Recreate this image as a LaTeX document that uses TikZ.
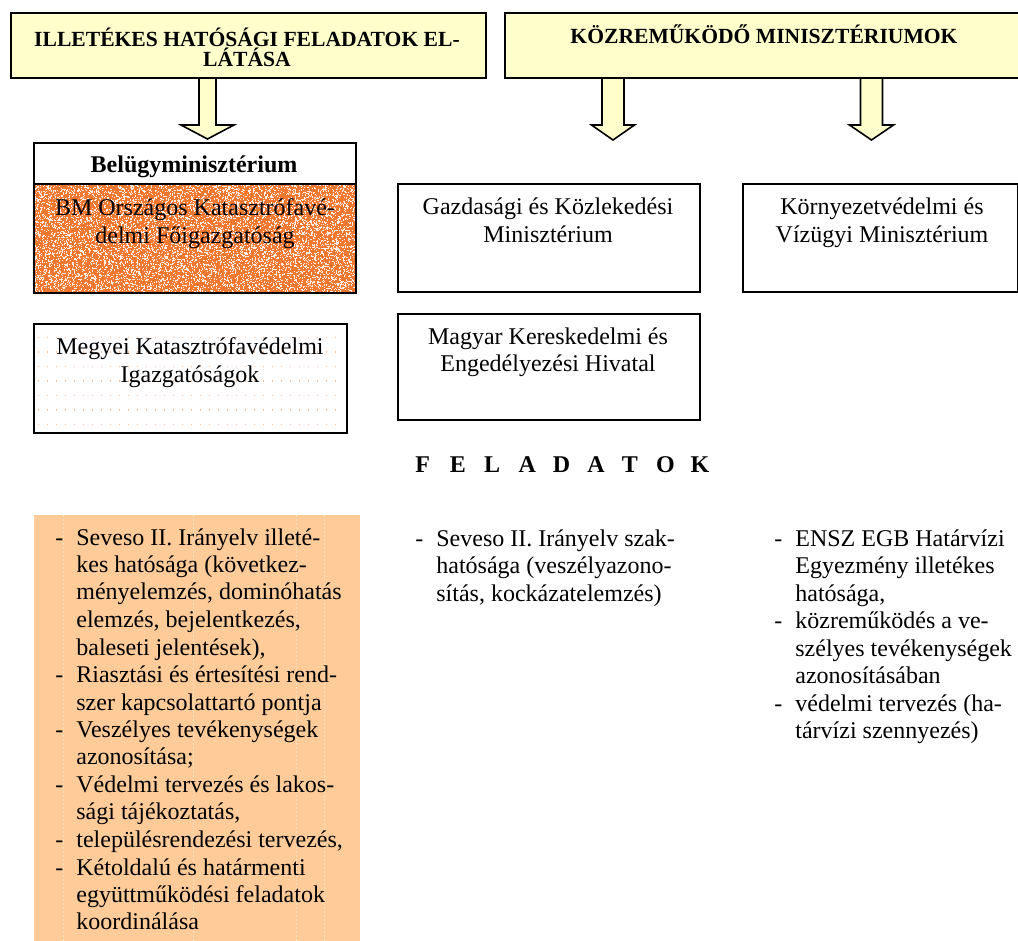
\documentclass[tikz,border=0pt]{standalone}
\usepackage{fontspec}
\setmainfont{Liberation Serif}
\usetikzlibrary{calc}
\definecolor{hdr}{HTML}{FFFFCC}
\definecolor{peach}{HTML}{FFCC99}
\definecolor{okfor}{RGB}{240,120,48}
\definecolor{dotor}{RGB}{247,196,160}
\newcommand\rows[1]{\vtop{\halign{\hfil##\hfil\cr#1\crcr}}}
\newcommand\dsh{\hbox to 10.5pt{-\hfil}}
\newcommand\items[1]{\vtop{\halign{##\hfil&##\hfil\cr#1\crcr}}}
\newcommand\lsp[1]{\makebox[17.2pt][l]{#1}}
\newcommand\blockarrow[5]{%
  \fill[hdr] ($(#1)+(-#2,0)$) -- ($(#1)+(-#2,#4)$) -- ($(#1)+(-#3,#4)$) -- ($(#1)+(0,{#4+#5})$)
     -- ($(#1)+(#3,#4)$) -- ($(#1)+(#2,#4)$) -- ($(#1)+(#2,0)$) -- cycle;
  \draw[line width=0.8pt, line join=miter] ($(#1)+(-#2,0)$) -- ($(#1)+(-#2,#4)$) -- ($(#1)+(-#3,#4)$) -- ($(#1)+(0,{#4+#5})$)
     -- ($(#1)+(#3,#4)$) -- ($(#1)+(#2,#4)$) -- ($(#1)+(#2,0)$);}
\newcommand\orangelist{\items{%
\dsh&Seveso II. Irányelv illeté-\cr
&kes hatósága (következ-\cr
&ményelemzés, dominóhatás\cr
&elemzés, bejelentkezés,\cr
&baleseti jelentések),\cr
\dsh&Riasztási és értesítési rend-\cr
&szer kapcsolattartó pontja\cr
\dsh&Veszélyes tevékenységek\cr
&azonosítása;\cr
\dsh&Védelmi tervezés és lakos-\cr
&sági tájékoztatás,\cr
\dsh&településrendezési tervezés,\cr
\dsh&Kétoldalú és határmenti\cr
&együttműködési feladatok\cr
&koordinálása}}
\newcommand\middlelist{\items{%
\dsh&Seveso II. Irányelv szak-\cr
&hatósága (veszélyazono-\cr
&sítás, kockázatelemzés)}}
\newcommand\rightlist{\items{%
\dsh&ENSZ EGB Határvízi\cr
&Egyezmény illetékes\cr
&hatósága,\cr
\dsh&közreműködés a ve-\cr
&szélyes tevékenységek\cr
&azonosításában\cr
\dsh&védelmi tervezés (ha-\cr
&tárvízi szennyezés)}}
\begin{document}
\begin{tikzpicture}[x=0.5pt,y=-0.5pt,
  box/.style={draw, line width=0.8pt, inner sep=0pt, anchor=north west},
  txt/.style={inner sep=0pt, anchor=base, font=\fontsize{12}{13.75}\selectfont},
  btxt/.style={inner sep=0pt, anchor=base, font=\fontsize{12}{13.75}\selectfont\bfseries},
  htxt/.style={inner sep=0pt, anchor=base, font=\fontsize{10.8}{10}\selectfont\bfseries},
  ltxt/.style={inner sep=0pt, anchor=base west, font=\fontsize{12}{13.75}\selectfont}]
\useasboundingbox (0,0) rectangle (1018,941);
\fill[white] (0,0) rectangle (1018,941);
% arrows
\coordinate (a1) at (207.5,77);
\coordinate (a2) at (613,77);
\coordinate (a3) at (871.5,77);
\blockarrow{a1}{8.5}{26.5}{48}{14}
\blockarrow{a2}{11}{21.5}{48}{15}
\blockarrow{a3}{11}{22}{48}{15}
% header boxes
\node[box, fill=hdr, minimum width=237.5pt, minimum height=32.5pt] (hl) at (10,12) {};
\node[box, fill=hdr, minimum width=260pt, minimum height=32.5pt] (hr) at (504,12) {};
\node[htxt] (hlt) at (247,47) {\rows{ILLETÉKES HATÓSÁGI FELADATOK EL-\cr LÁTÁSA}};
\node[htxt] (hrt) at (764,44) {KÖZREMŰKÖDŐ MINISZTÉRIUMOK};
% Belügyminisztérium
\node[box, fill=white, minimum width=161pt, minimum height=20.5pt] (bm) at (33,142) {};
\node[btxt] (bmt) at (194,173) {Belügyminisztérium};
\fill[okfor] (33,183) rectangle (355,292);
\pgfmathsetseed{11}
\foreach \i in {1,...,9000}{\fill[white!88!okfor] ({34+320*rnd},{184.5+106.5*rnd}) rectangle ++(1.1,1.1);}
\node[box, minimum width=161pt, minimum height=54.5pt] (okf) at (33,183) {};
\node[txt] (okft) at (195,216) {\rows{BM Országos Katasztrófavé-\cr delmi Főigazgatóság}};
% Megyei
\node[box, fill=white, minimum width=156.5pt, minimum height=54.5pt] (mkv) at (33,323) {};
\foreach \yy in {337,351.5,...,425}{\foreach \xx in {38,47,...,342}{\fill[dotor] (\xx,\yy) rectangle ++(1.2,1.2);}}
\node[txt] (mkvt) at (190,355) {\rows{Megyei Katasztrófavédelmi\cr Igazgatóságok}};
% other ministries
\node[box, fill=white, minimum width=151pt, minimum height=54pt] (gkm) at (397,183) {};
\node[txt] (gkmt) at (548,215) {\rows{Gazdasági és Közlekedési\cr Minisztérium}};
\node[box, fill=white, minimum width=137.5pt, minimum height=54pt] (kvm) at (742,183) {};
\node[txt] (kvmt) at (882,215) {\rows{Környezetvédelmi és\cr Vízügyi Minisztérium}};
\node[box, fill=white, minimum width=151pt, minimum height=53pt] (mkeh) at (397,313) {};
\node[txt] (mkeht) at (548,344) {\rows{Magyar Kereskedelmi és\cr Engedélyezési Hivatal}};
% FELADATOK
\node[inner sep=0pt, anchor=base west, font=\fontsize{12}{13.75}\selectfont\bfseries] (fel) at (415,473)
  {\lsp{F}\lsp{E}\lsp{L}\lsp{A}\lsp{D}\lsp{A}\lsp{T}\lsp{O}K};
% lists
\fill[peach] (34,515) rectangle (360,945);
\foreach \xx in {63,193,296,324}{\draw[white!40!peach, line width=0.4pt, dash pattern=on 1pt off 1pt] (\xx,515) -- (\xx,945);}
\node[ltxt] (l1) at (55,545) {\orangelist};
\node[ltxt] (l2) at (415,546) {\middlelist};
\node[ltxt] (l3) at (774,546) {\rightlist};
\end{tikzpicture}
\end{document}
